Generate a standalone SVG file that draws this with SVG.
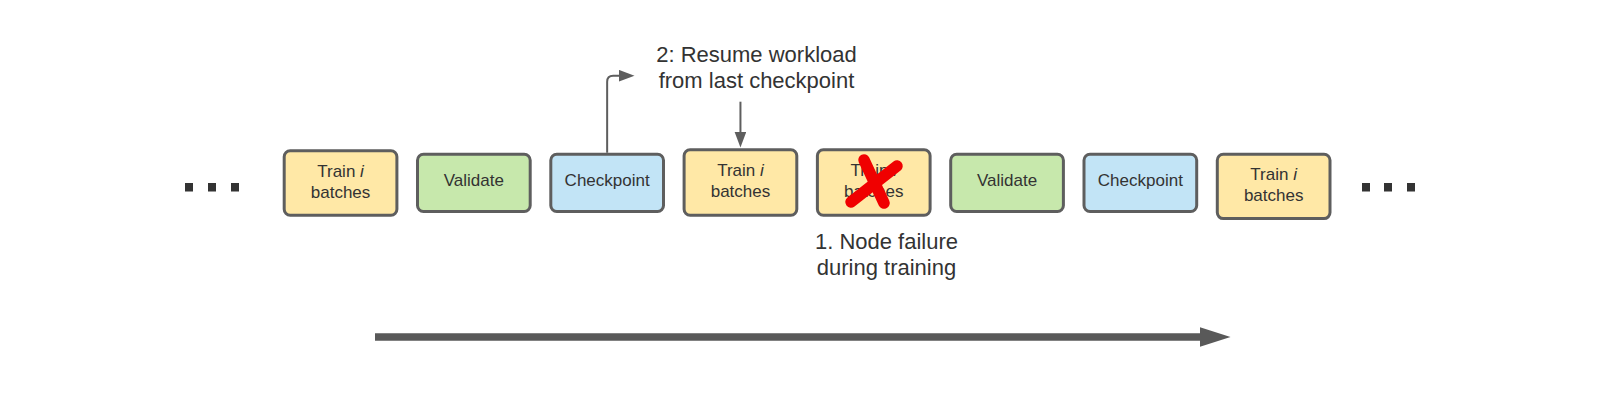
<svg xmlns="http://www.w3.org/2000/svg" width="1600" height="417" viewBox="0 0 1600 417">
<defs>
<style>
.box{stroke:#5e5e5e;stroke-width:3}
.train{fill:#ffe8a6}
.val{fill:#c7e8ac}
.ckpt{fill:#c2e4f6}
.bt{font-family:"Liberation Sans",Arial,sans-serif;font-size:17px;fill:#333;text-anchor:middle}
.lbl{font-family:"Liberation Sans",Arial,sans-serif;font-size:22px;fill:#333;text-anchor:middle}
.conn{fill:none;stroke:#5e5e5e;stroke-width:2}
.dot{fill:#333}
</style>
<marker id="ah" viewBox="0 0 16 12" refX="0.5" refY="6" markerWidth="16" markerHeight="12" markerUnits="userSpaceOnUse" orient="auto">
<path d="M0,0 L16,6 L0,12 Z" fill="#5e5e5e"/>
</marker>
<marker id="bigah" viewBox="0 0 31 20" refX="0.5" refY="10" markerWidth="31" markerHeight="20" markerUnits="userSpaceOnUse" orient="auto">
<path d="M0,0 L31,10 L0,20 Z" fill="#595959"/>
</marker>
</defs>
<rect width="1600" height="417" fill="#fff"/>

<g id="dots-left">
<rect class="dot" x="185" y="183" width="8" height="8.5"/>
<rect class="dot" x="208" y="183" width="8" height="8.5"/>
<rect class="dot" x="231" y="183" width="8" height="8.5"/>
</g>

<g id="node1">
<rect class="box train" x="284.2" y="150.8" width="112.7" height="64.4" rx="6"/>
<text class="bt" x="340.55" y="176.5">Train <tspan font-style="italic">i</tspan></text>
<text class="bt" x="340.55" y="197.5">batches</text>
</g>
<g id="node2">
<rect class="box val" x="417.5" y="154.2" width="112.7" height="57.3" rx="6"/>
<text class="bt" x="473.85" y="186">Validate</text>
</g>
<g id="node3">
<rect class="box ckpt" x="550.8" y="154.2" width="112.7" height="57.3" rx="6"/>
<text class="bt" x="607.15" y="186">Checkpoint</text>
</g>
<g id="node4">
<rect class="box train" x="684.1" y="149.8" width="112.7" height="65.4" rx="6"/>
<text class="bt" x="740.45" y="176">Train <tspan font-style="italic">i</tspan></text>
<text class="bt" x="740.45" y="197">batches</text>
</g>
<g id="node5">
<rect class="box train" x="817.4" y="149.8" width="112.7" height="65.4" rx="6"/>
<text class="bt" x="873.75" y="176">Train <tspan font-style="italic">i</tspan></text>
<text class="bt" x="873.75" y="197">batches</text>
<g id="failure-x" stroke="#f00000" stroke-width="11.5" stroke-linecap="round">
<line x1="864" y1="160" x2="884" y2="203"/>
<line x1="897" y1="166" x2="851" y2="202"/>
</g>
</g>
<g id="node6">
<rect class="box val" x="950.7" y="154.2" width="112.7" height="57.3" rx="6"/>
<text class="bt" x="1007.05" y="186">Validate</text>
</g>
<g id="node7">
<rect class="box ckpt" x="1084" y="154.2" width="112.7" height="57.3" rx="6"/>
<text class="bt" x="1140.35" y="186">Checkpoint</text>
</g>
<g id="node8">
<rect class="box train" x="1217.3" y="154.2" width="112.7" height="64.4" rx="6"/>
<text class="bt" x="1273.65" y="179.5">Train <tspan font-style="italic">i</tspan></text>
<text class="bt" x="1273.65" y="200.5">batches</text>
</g>

<g id="dots-right">
<rect class="dot" x="1362" y="183" width="8" height="8.5"/>
<rect class="dot" x="1384" y="183" width="8" height="8.5"/>
<rect class="dot" x="1407" y="183" width="8" height="8.5"/>
</g>

<g id="label-resume">
<text class="lbl" x="756.5" y="61.5">2: Resume workload</text>
<text class="lbl" x="756.5" y="88">from last checkpoint</text>
</g>
<g id="label-failure">
<text class="lbl" x="886.5" y="248.5">1. Node failure</text>
<text class="lbl" x="886.5" y="275">during training</text>
</g>

<g id="connectors">
<path class="conn" d="M607.15,152.7 V81.7 Q607.15,75.7 613.15,75.7 H619" marker-end="url(#ah)"/>
<path class="conn" d="M740.45,101.7 V132" marker-end="url(#ah)"/>
<path fill="none" stroke="#595959" stroke-width="7.5" d="M375,337 H1200" marker-end="url(#bigah)"/>
</g>
</svg>
